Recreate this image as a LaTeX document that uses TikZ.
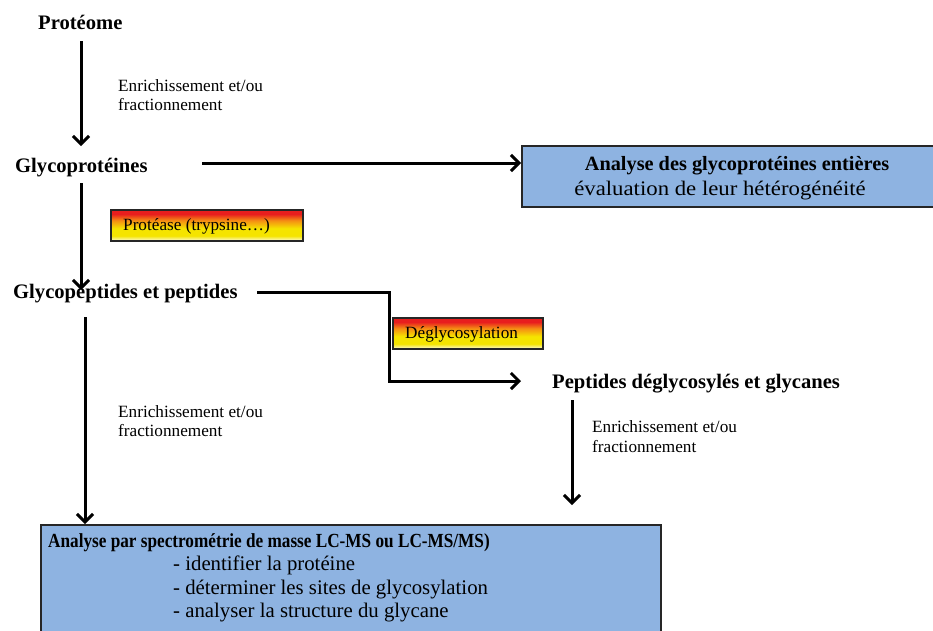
\documentclass[tikz,border=0pt]{standalone}
\usepackage{fontspec}
\setmainfont{Liberation Serif}
\newfontfamily\condserif{Liberation Serif}[FakeStretch=0.86]
\newfontfamily\wideserif{Liberation Serif}[FakeStretch=1.1]
\usetikzlibrary{arrows.meta}
\definecolor{boxblue}{RGB}{142,179,225}
\definecolor{warmred}{RGB}{232,30,30}
\definecolor{warmorange}{RGB}{245,140,20}
\definecolor{warmyellow}{RGB}{245,228,0}
\definecolor{paleyellow}{RGB}{252,250,215}
\pgfdeclareverticalshading{warm}{100bp}{color(0bp)=(paleyellow); color(25bp)=(paleyellow); color(33bp)=(warmyellow); color(45bp)=(warmyellow); color(58bp)=(warmorange); color(68bp)=(warmred); color(75bp)=(warmred); color(100bp)=(warmred)}
\tikzset{
  head/.style={anchor=base west, inner sep=0pt, font=\fontsize{20.6}{24}\selectfont\bfseries},
  lbl/.style={anchor=base west, inner sep=0pt, font=\fontsize{17.2}{20}\selectfont, align=left},
  arr/.style={line width=3pt, -{Straight Barb[length=8pt,width=16pt,line width=3pt]}},
  warmbox/.style={draw=black!85, line width=1.5pt, shading=warm, anchor=north west, inner sep=0pt},
  bluebox/.style={draw=black!85, line width=1.8pt, fill=boxblue, anchor=north west, inner sep=0pt},
  boxtitle/.style={anchor=base, inner sep=0pt, font=\fontsize{20.3}{24}\selectfont\bfseries},
  boxsub/.style={anchor=base, inner sep=0pt, font=\wideserif\fontsize{20.7}{24}\selectfont},
  boxtext/.style={anchor=base west, inner sep=0pt, font=\fontsize{20.8}{24}\selectfont},
  boxhead/.style={anchor=base west, inner sep=0pt, font=\condserif\fontsize{20}{24}\selectfont\bfseries},
}
\begin{document}
\begin{tikzpicture}[x=1pt,y=-1pt]
\useasboundingbox (0,0) rectangle (933,630);
\begin{scope}
\clip (0,0) rectangle (933,630);
% nodes
\node[head] (prot) at (38,29) {Protéome};
\node[head] (glyp) at (15,172) {Glycoprotéines};
\node[head] (gpep) at (13,298) {Glycopeptides et peptides};
\node[head] (pdeg) at (552,388) {Peptides déglycosylés et glycanes};

% top blue box
\node[bluebox, minimum width=425pt, minimum height=61pt] (box1) at (521,145) {};
\node[boxtitle] (box1a) at (737,170) {Analyse des glycoprotéines entières};
\node[boxsub] (box1b) at (720,195) {évaluation de leur hétérogénéité};

% bottom blue box
\node[bluebox, minimum width=620pt, minimum height=130pt] (box2) at (40,524) {};
\node[boxhead] (t0) at (48,547) {Analyse par spectrométrie de masse LC-MS ou LC-MS/MS)};
\node[boxtext] (t1) at (173,570) {- identifier la protéine};
\node[boxtext] (t2) at (173,594) {- déterminer les sites de glycosylation};
\node[boxtext] (t3) at (173,617) {- analyser la structure du glycane};

% gradient boxes
\node[warmbox, minimum width=192pt, minimum height=31pt] (prota) at (110,209) {};
\node[lbl] (protat) at (123,230) {Protéase (trypsine…)};
\node[warmbox, minimum width=150pt, minimum height=31pt] (degl) at (392,317) {};
\node[lbl] (deglt) at (405,338) {Déglycosylation};

% labels
\node[lbl] (l1) at (118,91) {Enrichissement et/ou};
\node[lbl] (l1b) at (118,110) {fractionnement};
\node[lbl] (l2) at (118,417) {Enrichissement et/ou};
\node[lbl] (l2b) at (118,436) {fractionnement};
\node[lbl] (l3) at (592,432) {Enrichissement et/ou};
\node[lbl] (l3b) at (592,452) {fractionnement};

% connector coordinates
\coordinate (a1s) at (81,41);
\coordinate (a1e) at (81,146);
\coordinate (a2s) at (81,183);
\coordinate (a2e) at (81,290);
\coordinate (hs) at (202,163);
\coordinate (es) at (257,292);
\coordinate (ec1) at (389,292);
\coordinate (ec2) at (389,381);
\coordinate (ee) at (521,381);
\coordinate (a3s) at (572,400);
\coordinate (a3e) at (572,505);
\coordinate (a4s) at (85,317);

% connectors
\draw[arr] (a1s) -- (a1e);
\draw[arr] (a2s) -- (a2e);
\draw[arr] (hs) -- (box1.west |- hs);
\draw[arr] (es) -- (ec1) -- (ec2) -- (ee);
\draw[arr] (a3s) -- (a3e);
\draw[arr] (a4s) -- (a4s |- box2.north);
\end{scope}
\end{tikzpicture}
\end{document}
